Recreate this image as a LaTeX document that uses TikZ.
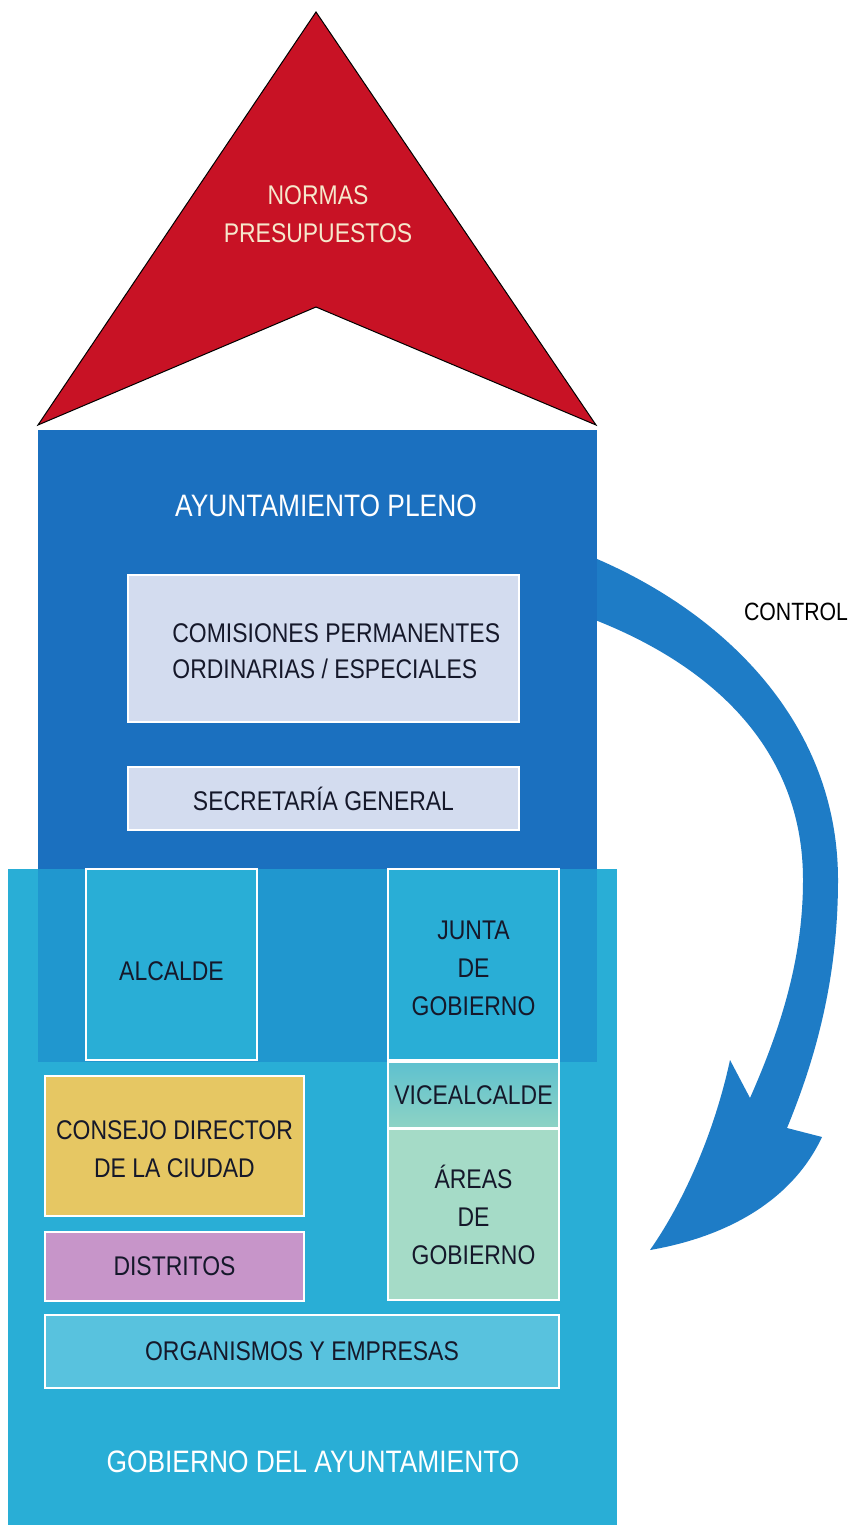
\documentclass[tikz,border=0pt]{standalone}
\usepackage{fontspec}
\setmainfont[FakeStretch=0.85]{Liberation Sans}
\definecolor{redtop}{HTML}{C81225}
\definecolor{darkblue}{HTML}{1B70BF}
\definecolor{arrowblue}{HTML}{1E7CC6}
\definecolor{lightblue}{HTML}{29AED6}
\definecolor{overlapblue}{HTML}{2097CF}
\definecolor{lavender}{HTML}{D3DCEF}
\definecolor{gold}{HTML}{E6C763}
\definecolor{purple}{HTML}{C795C9}
\definecolor{vicetop}{HTML}{5EC1CF}
\definecolor{vicebot}{HTML}{8ED3C4}
\definecolor{areas}{HTML}{A5DBC7}
\definecolor{organis}{HTML}{58C2DE}
\definecolor{cream}{HTML}{F6E8CC}
\definecolor{labeltext}{HTML}{15182A}
\begin{document}
\begin{tikzpicture}[x=0.5pt,y=-0.5pt,
  box/.style={draw=white, line width=1pt, inner sep=0pt, outer sep=0pt, text=labeltext, align=center,
    font=\fontsize{13.5}{19}\selectfont},
  area/.style={inner sep=0pt, outer sep=0pt},
  header/.style={text=white, font=\fontsize{15.5}{19}\selectfont}]
\useasboundingbox (0,0) rectangle (853,1525);
\fill[white] (0,0) rectangle (853,1525);

% red roof
\fill[redtop, draw=black, line width=0.5pt] (316,12) -- (596,425) -- (316,307) -- (38,425) -- cycle;
\node[font=\fontsize{13.5}{19}\selectfont, text=cream, align=center] (rooftxt) at (318,214) {NORMAS\\PRESUPUESTOS};

% control arrow
\fill[arrowblue] (590,556) .. controls (720,610) and (838,720) .. (838,880)
  .. controls (838,980) and (815,1060) .. (787,1128)
  -- (822,1137) .. controls (790,1205) and (720,1238) .. (650,1250)
  .. controls (685,1200) and (715,1130) .. (730,1060)
  -- (750,1098) .. controls (780,1030) and (803,960) .. (803,880)
  .. controls (803,740) and (700,660) .. (590,618) -- cycle;
\node[font=\fontsize{12.5}{15}\selectfont, text=black] (control) at (796,612) {CONTROL};

% main areas
\node[area, fill=darkblue, minimum width=279.5pt, minimum height=219.5pt] (pleno) at (317.5,649.5) {};
\node[area, fill=lightblue, minimum width=304.5pt, minimum height=328pt] (gobierno) at (312.5,1197) {};
\node[area, fill=overlapblue, minimum width=279.5pt, minimum height=96.5pt] (overlap) at (317.5,965.5) {};

\node[header] (plenotxt) at (326,506) {AYUNTAMIENTO PLENO};
\node[header] (gobtxt) at (313,1462) {GOBIERNO DEL AYUNTAMIENTO};

% boxes
\node[box, fill=lavender, minimum width=195.5pt, minimum height=73.5pt] (com) at (323.5,648.5) {};
\node[font=\fontsize{13.5}{18}\selectfont, text=labeltext, align=left, anchor=west, inner sep=0pt] (comtxt) at (172,651) {COMISIONES PERMANENTES\\ORDINARIAS / ESPECIALES};
\node[box, fill=lavender, minimum width=195.5pt, minimum height=31.5pt] (sec) at (323.5,798.5) {SECRETARÍA GENERAL};

\node[box, fill=lightblue, minimum width=85.5pt, minimum height=95.5pt, text height=16pt] (alc) at (171.5,964.5) {ALCALDE};
\node[box, fill=lightblue, minimum width=85.5pt, minimum height=95.5pt] (jun) at (473.5,964.5) {\rule{0pt}{13pt}JUNTA\\DE\\GOBIERNO};
\node[box, top color=vicetop, bottom color=vicebot, minimum width=85.5pt, minimum height=33pt] (vic) at (473.5,1095) {VICEALCALDE};
\node[box, fill=areas, minimum width=85.5pt, minimum height=85.5pt] (are) at (473.5,1214.5) {ÁREAS\\DE\\GOBIERNO};
\node[box, fill=gold, minimum width=129.5pt, minimum height=70pt] (con) at (174.5,1146) {\rule{0pt}{13pt}CONSEJO DIRECTOR\\DE LA CIUDAD};
\node[box, fill=purple, minimum width=129.5pt, minimum height=34.5pt] (dis) at (174.5,1266.5) {DISTRITOS};
\node[box, fill=organis, minimum width=257pt, minimum height=36.5pt] (org) at (302,1351.5) {ORGANISMOS Y EMPRESAS};
\end{tikzpicture}
\end{document}
